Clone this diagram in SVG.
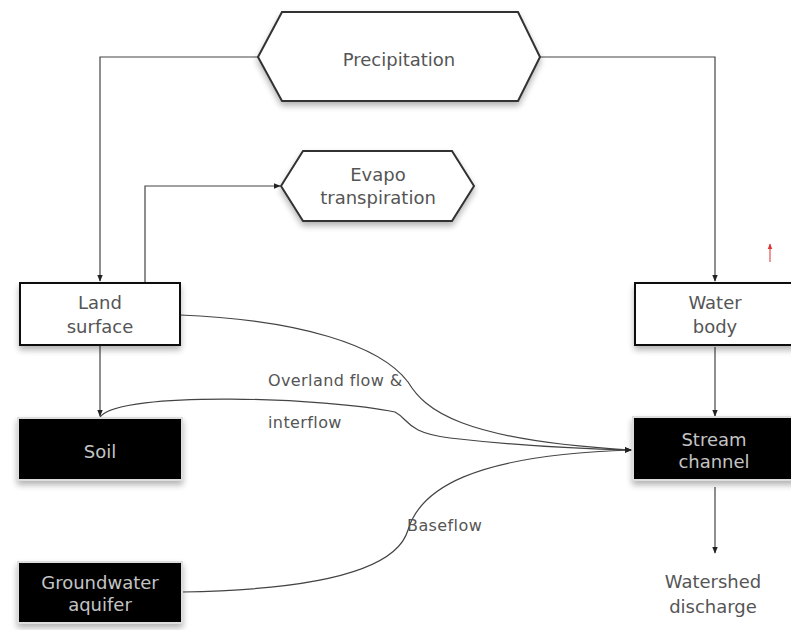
<svg xmlns="http://www.w3.org/2000/svg" width="791" height="630" viewBox="0 0 791 630">
<defs>
<marker id="arr" viewBox="0 0 10 10" refX="9" refY="5" markerWidth="7" markerHeight="7" orient="auto" markerUnits="userSpaceOnUse">
<path d="M0,1 L10,5 L0,9 z" fill="#222"/>
</marker>
<marker id="arrRed" viewBox="0 0 10 10" refX="9" refY="5" markerWidth="6" markerHeight="6" orient="auto" markerUnits="userSpaceOnUse">
<path d="M0,1 L10,5 L0,9 z" fill="#d33"/>
</marker>
<filter id="sh" x="-20%" y="-20%" width="140%" height="150%">
<feGaussianBlur in="SourceAlpha" stdDeviation="3"/>
<feOffset dx="0" dy="4"/>
<feComponentTransfer><feFuncA type="linear" slope="0.3"/></feComponentTransfer>
<feMerge><feMergeNode/><feMergeNode in="SourceGraphic"/></feMerge>
</filter>
</defs>
<style>
.hex{fill:#fff;stroke:#333;stroke-width:2}
.wbox{fill:#fff;stroke:#111;stroke-width:2}
.bbox{fill:#000;stroke:#ddd;stroke-width:2}
.t{font-family:"DejaVu Sans","Liberation Sans",sans-serif;font-size:18px;fill:#555;text-anchor:middle}
.tw{font-family:"DejaVu Sans","Liberation Sans",sans-serif;font-size:18px;fill:#c4c4c4;text-anchor:middle}
.lbl{font-family:"DejaVu Sans","Liberation Sans",sans-serif;font-size:16px;letter-spacing:0.4px;fill:#555}
.c{fill:none;stroke:#444;stroke-width:1.2}
</style>
<g id="connectors">
<path class="c" d="M258,57 H100 V281" marker-end="url(#arr)"/>
<path class="c" d="M540,57 H715 V281" marker-end="url(#arr)"/>
<path class="c" d="M145,283 V186 H280" marker-end="url(#arr)"/>
<path class="c" d="M100,345 V416" marker-end="url(#arr)"/>
<path class="c" d="M715,347 V416" marker-end="url(#arr)"/>
<path class="c" d="M715,487 V553" marker-end="url(#arr)"/>
<path class="c" d="M180,315 C300,320 380,345 408,382 C425,410 460,440 631,450" marker-end="url(#arr)"/>
<path class="c" d="M100,417 C120,390 330,398 395,412 C410,420 405,432 450,438 C520,446 580,449 631,450" marker-end="url(#arr)"/>
<path class="c" d="M182,592 C300,590 395,575 408,530 C420,490 470,455 631,450" marker-end="url(#arr)"/>
<path d="M770,262 V244" fill="none" stroke="#d33" stroke-width="1" marker-end="url(#arrRed)"/>
</g>
<g id="precipitation">
<polygon class="hex" filter="url(#sh)" points="258,57 282,12 518,12 540,57 518,101 282,101"/>
<text class="t" x="399" y="66" font-size="19">Precipitation</text>
</g>
<g id="evapotranspiration">
<polygon class="hex" filter="url(#sh)" points="281,186 303,151 452,151 474,186 452,221 303,221"/>
<text class="t" x="378" y="181">Evapo</text>
<text class="t" x="378" y="204">transpiration</text>
</g>
<g id="land-surface">
<rect class="wbox" filter="url(#sh)" x="20" y="283" width="160" height="62"/>
<text class="t" x="100" y="309">Land</text>
<text class="t" x="100" y="333">surface</text>
</g>
<g id="water-body">
<rect class="wbox" filter="url(#sh)" x="635" y="283" width="160" height="62"/>
<text class="t" x="715" y="309">Water</text>
<text class="t" x="715" y="333">body</text>
</g>
<g id="soil">
<rect class="bbox" filter="url(#sh)" x="18" y="418" width="164" height="62"/>
<text class="tw" x="100" y="458">Soil</text>
</g>
<g id="stream-channel">
<rect class="bbox" filter="url(#sh)" x="633" y="417" width="162" height="63"/>
<text class="tw" x="714" y="446">Stream</text>
<text class="tw" x="714" y="468">channel</text>
</g>
<g id="groundwater">
<rect class="bbox" filter="url(#sh)" x="18" y="562" width="164" height="61"/>
<text class="tw" x="100" y="589">Groundwater</text>
<text class="tw" x="100" y="611">aquifer</text>
</g>
<g id="watershed-discharge">
<text class="t" x="713" y="588">Watershed</text>
<text class="t" x="713" y="613">discharge</text>
</g>
<g id="labels">
<text class="lbl" x="268" y="386">Overland flow &amp;</text>
<text class="lbl" x="268" y="428">interflow</text>
<text class="lbl" x="407" y="531">Baseflow</text>
</g>
</svg>
